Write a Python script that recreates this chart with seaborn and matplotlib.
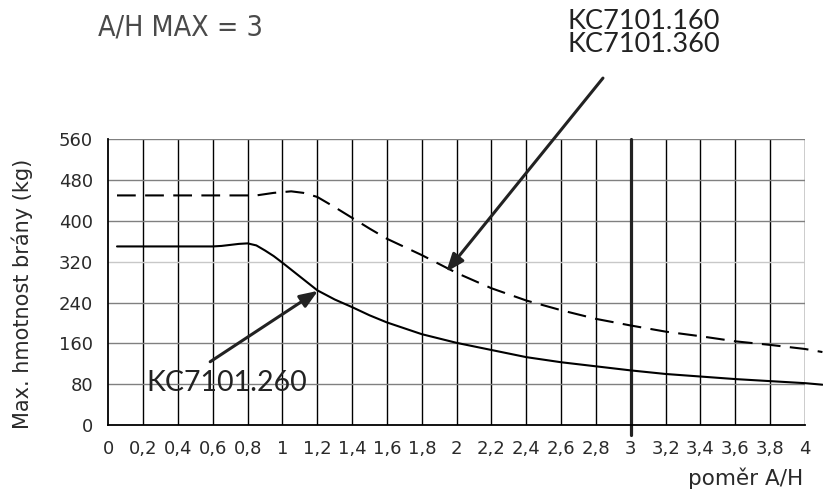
import matplotlib
matplotlib.use("Agg")
import matplotlib.pyplot as plt
import seaborn as sns
import pandas as pd

# ---- data ----
x_solid = [0.05, 0.6, 0.65, 0.7, 0.75, 0.8, 0.85, 0.9, 0.95, 1.0, 1.1, 1.2, 1.3, 1.4,
           1.5, 1.6, 1.8, 2.0, 2.2, 2.4, 2.6, 2.8, 3.0, 3.2, 3.4, 3.6, 3.8, 4.0, 4.1]
y_solid = [350, 350, 351, 353, 355, 356, 352, 342, 331, 318, 291, 264, 246, 231,
           215, 201, 178, 161, 147, 133, 123, 115, 107, 100, 95, 90, 86, 82, 79]
x_dash = [0.05, 0.85, 0.95, 1.05, 1.12, 1.2, 1.3, 1.4, 1.5, 1.6, 1.8, 2.0,
          2.2, 2.4, 2.6, 2.8, 3.0, 3.2, 3.4, 3.6, 3.8, 4.0, 4.1]
y_dash = [450, 450, 455, 458, 455, 447, 427, 406, 385, 365, 333, 298,
          268, 244, 225, 208, 195, 183, 174, 164, 157, 149, 143]
x_ticks = [0, 0.2, 0.4, 0.6, 0.8, 1, 1.2, 1.4, 1.6, 1.8, 2, 2.2, 2.4, 2.6, 2.8, 3,
           3.2, 3.4, 3.6, 3.8, 4]
x_tick_labels = ["0", "0,2", "0,4", "0,6", "0,8", "1", "1,2", "1,4", "1,6", "1,8", "2",
                 "2,2", "2,4", "2,6", "2,8", "3", "3,2", "3,4", "3,6", "3,8", "4"]
y_ticks = [0, 80, 160, 240, 320, 400, 480, 560]
title_text = "A/H MAX = 3"
label_dash = "KC7101.160\nKC7101.360"
label_solid = "KC7101.260"
y_label = "Max. hmotnost brány (kg)"
x_label = "pom\u011br A/H"

sns.set_theme(style="white")
plt.rcParams["font.family"] = ["DejaVu Sans"]

W, H = 823, 494
fig = plt.figure(figsize=(W / 100, H / 100), dpi=100)
ax = fig.add_axes([108.3 / W, 1 - 425 / H, (805 - 108.3) / W, (425 - 139.3) / H])

df_s = pd.DataFrame({"x": x_solid, "y": y_solid})
df_d = pd.DataFrame({"x": x_dash, "y": y_dash})

ax.set_xlim(0, 4)
ax.set_ylim(0, 560)
ax.set_xticks(x_ticks)
ax.set_xticklabels(x_tick_labels)
ax.set_yticks(y_ticks)
ax.set_yticklabels([str(v) for v in y_ticks])

# grid
for xv in x_ticks[1:]:
    if xv == 3:
        continue
    ax.axvline(xv, color="black", lw=1.0, zorder=1)
for yv in y_ticks[1:]:
    ax.axhline(yv, color="#c8c8c8" if yv == 320 else "#808080", lw=1.0, zorder=1)
ax.axvline(3, ymin=-0.035, ymax=1, color="#222222", lw=2.3, zorder=2, clip_on=False)

sns.lineplot(data=df_s, x="x", y="y", ax=ax, color="black", lw=1.5, zorder=3,
             clip_on=False, estimator=None, sort=False)
sns.lineplot(data=df_d, x="x", y="y", ax=ax, color="black", lw=1.5, zorder=3,
             clip_on=False, estimator=None, sort=False, linestyle=(0, (9, 4.5)))

for s in ["top", "right"]:
    ax.spines[s].set_visible(False)
for s in ["left", "bottom"]:
    ax.spines[s].set_color("black")
    ax.spines[s].set_linewidth(1.3)

ax.tick_params(axis="both", which="both", length=6, width=1, color="#999999",
               labelsize=13, labelcolor="#2a2a2a", direction="out")
ax.tick_params(axis="x", pad=5)
ax.tick_params(axis="y", pad=5)

ax.set_xlabel("")
ax.set_ylabel("")
fig.text(22 / W, 1 - 294 / H, y_label, rotation=90, ha="center", va="center",
         fontsize=15, color="#2a2a2a")
fig.text(803 / W, 1 - 485 / H, x_label, ha="right", va="baseline",
         fontsize=15.5, color="#2a2a2a")

# annotations
fig.text(98 / W, 1 - 28 / H, title_text, ha="left", va="center", fontsize=20.5,
         color="#4a4a4a", family="DejaVu Sans", fontstretch="condensed")
fig.text(568 / W, 1 - 33 / H, label_dash, ha="left", va="center", fontsize=19.5,
         color="#222222", linespacing=0.9, family=["Lato", "DejaVu Sans"])
ax.text(0.22, 82, label_solid, ha="left", va="center", fontsize=20.5,
        color="#222222", family=["Lato", "DejaVu Sans"])

ax.annotate("", xy=(1.94, 300), xytext=(2.84, 680),
            arrowprops=dict(arrowstyle="-|>,head_length=0.9,head_width=0.35",
                            color="#222222", lw=2.2, shrinkA=0, shrinkB=0),
            annotation_clip=False)
ax.annotate("", xy=(1.204, 263), xytext=(0.585, 124),
            arrowprops=dict(arrowstyle="-|>,head_length=0.9,head_width=0.35",
                            color="#222222", lw=2.2, shrinkA=0, shrinkB=0),
            annotation_clip=False)

fig.savefig("out.png", dpi=100)
